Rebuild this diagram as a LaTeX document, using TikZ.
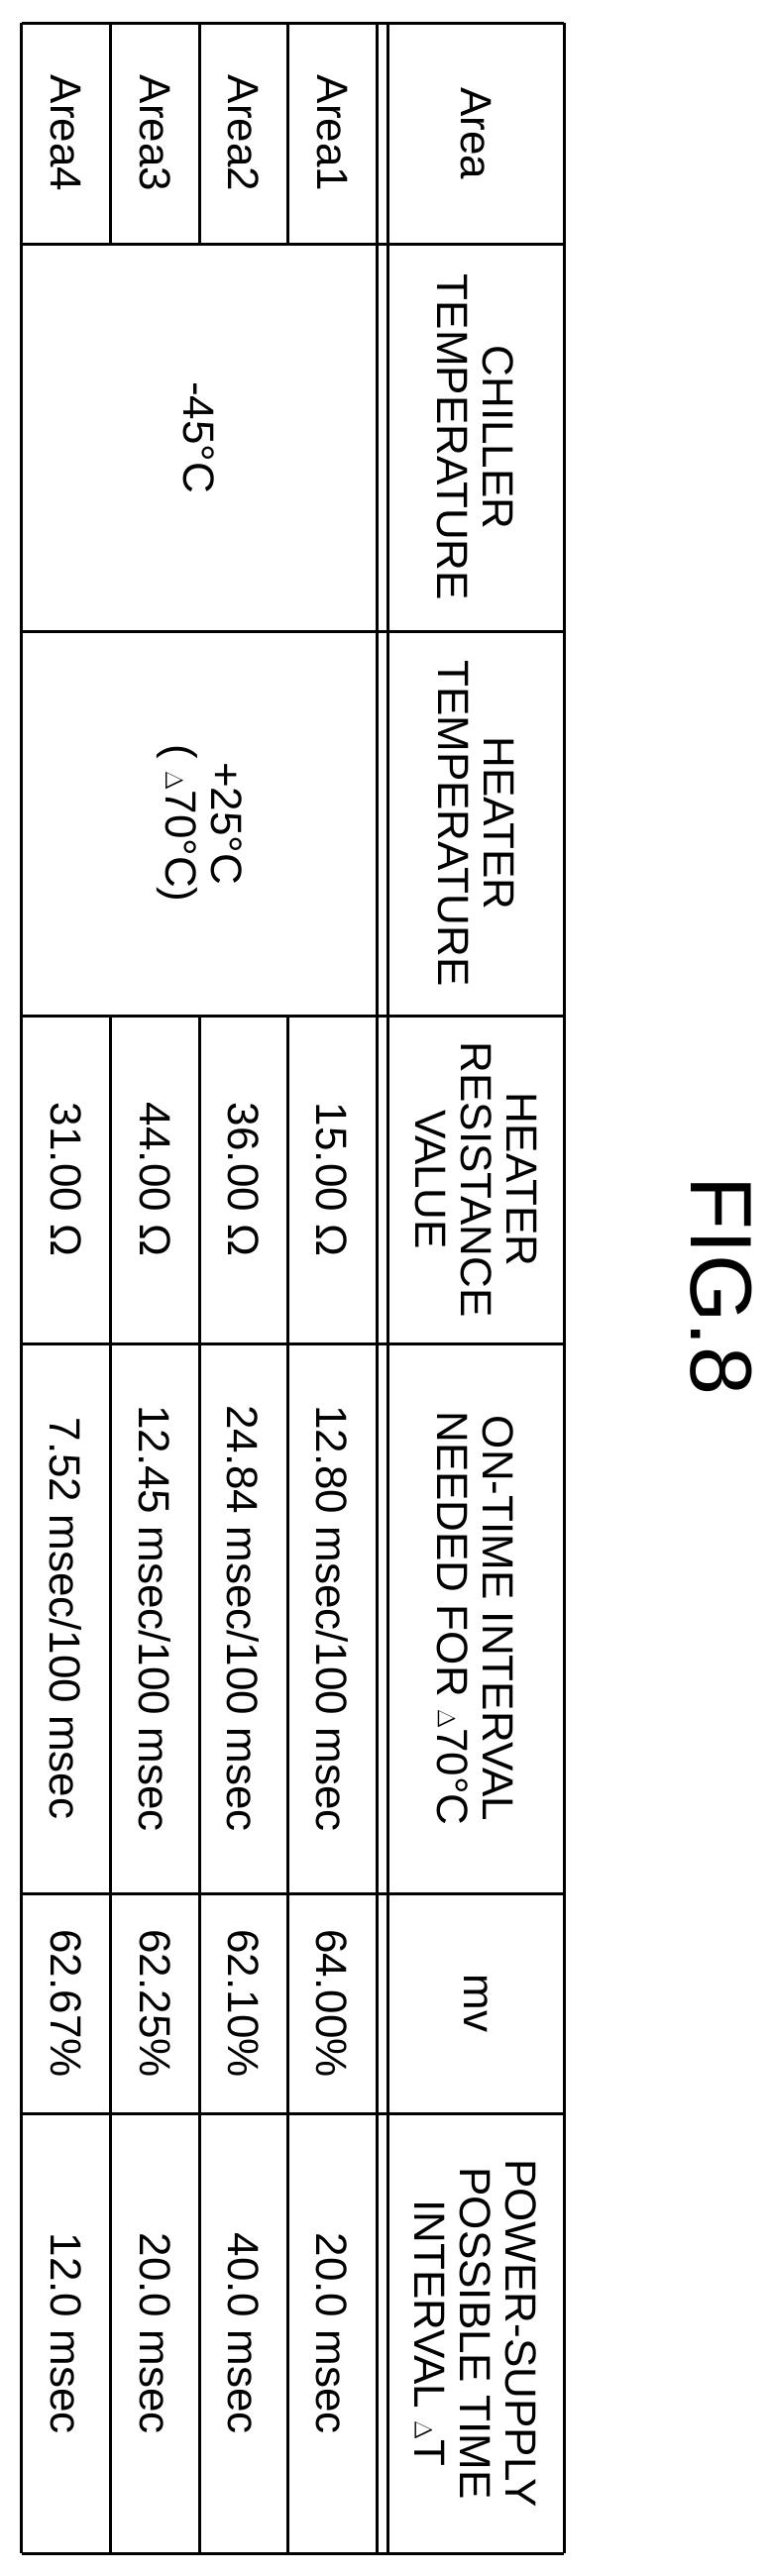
\documentclass[tikz,border=0pt]{standalone}
\usepackage{fontspec}
\setmainfont{Liberation Sans}
\begin{document}
\begin{tikzpicture}[x=1pt,y=-1pt,
  grid/.style={line width=3pt},
  txt/.style={rotate=-90,align=center,font=\fontsize{44}{46}\selectfont,inner sep=0pt}]
\useasboundingbox (0,0) rectangle (779,2600);
% horizontal lines (across)
\foreach \y in {23,246,637,1025,1356,1911,2133,2577}
  \draw[grid] (21.7,\y) -- (569,\y);
% outer verticals and double line
\draw[grid] (21.7,23) -- (21.7,2577);
\draw[grid] (569,23) -- (569,2577);
\draw[grid] (380,23) -- (380,2577);
\draw[grid] (391,23) -- (391,2577);
% data vertical lines (excluding merged cells)
\foreach \x in {111.7,201,290}{
  \draw[grid] (\x,23) -- (\x,246);
  \draw[grid] (\x,1025) -- (\x,2577);
}
% header
\node[txt] (h1) at (480,134.5) {Area};
\node[txt] (h2) at (480,441.5) {CHILLER\\TEMPERATURE};
\node[txt] (h3) at (480,831) {HEATER\\TEMPERATURE};
\node[txt] (h4) at (480,1190.5) {HEATER\\RESISTANCE\\VALUE};
\node[txt] (h5) at (480,1633.5) {ON-TIME INTERVAL\\NEEDED FOR $\Delta$70°C};
\node[txt] (h6) at (480,2022) {mv};
\node[txt] (h7) at (480,2355) {POWER-SUPPLY\\POSSIBLE TIME\\INTERVAL $\Delta$T};
% merged
\node[txt] (c1) at (201,441.5) {-45°C};
\node[txt] (c2) at (201,831) {+25°C\\( $\Delta$70°C)};
% rows
\foreach \x/\a/\r/\o/\m/\p in {335/1/15.00/12.80/64.00/20.0, 245.5/2/36.00/24.84/62.10/40.0, 156.3/3/44.00/12.45/62.25/20.0, 66.7/4/31.00/7.52/62.67/12.0}{
  \node[txt] (a\a) at (\x,134.5) {Area\a};
  \node[txt] (r\a) at (\x,1190.5) {\r\ Ω};
  \node[txt] (o\a) at (\x,1633.5) {\o\ msec/100 msec};
  \node[txt] (m\a) at (\x,2022) {\m\%};
  \node[txt] (p\a) at (\x,2355) {\p\ msec};
}
\node[txt,font=\fontsize{88}{90}\selectfont] (fig) at (728,1298) {FIG.8};
\end{tikzpicture}
\end{document}
